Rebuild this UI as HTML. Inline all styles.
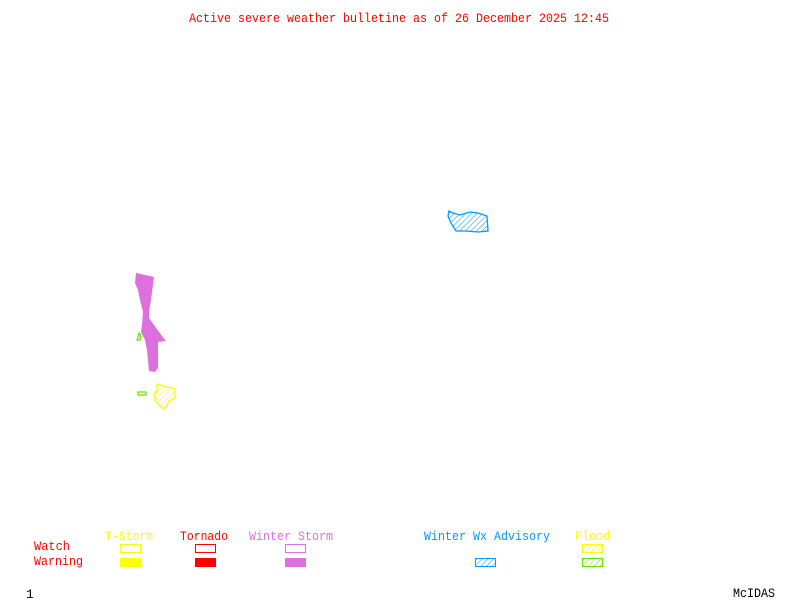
<!DOCTYPE html>
<html><head><meta charset="utf-8"><style>
html,body{margin:0;padding:0;background:#fff;}
svg{display:block;}
text{font-family:"Liberation Mono","DejaVu Sans Mono",monospace;font-size:13px;}
</style></head><body>
<svg width="800" height="600" viewBox="0 0 800 600" xmlns="http://www.w3.org/2000/svg">
<defs>
<pattern id="hb" width="4" height="4" patternUnits="userSpaceOnUse" patternTransform="rotate(45)"><line x1="0" y1="0" x2="0" y2="4" stroke="#0099ff" stroke-width="1"/></pattern>
<pattern id="hy" width="4" height="4" patternUnits="userSpaceOnUse" patternTransform="rotate(45)"><line x1="0" y1="0" x2="0" y2="4" stroke="#ffff00" stroke-width="1"/></pattern>
<pattern id="hg" width="4" height="4" patternUnits="userSpaceOnUse" patternTransform="rotate(45)"><line x1="0" y1="0" x2="0" y2="4" stroke="#66dd00" stroke-width="1"/></pattern>
</defs>
<text x="189" y="22" fill="#ff0000" textLength="420" lengthAdjust="spacingAndGlyphs">Active severe weather bulletine as of 26 December 2025 12:45</text>

<polygon points="136,273 141,274 154,277 151,300 149,312 149,318 154,325 162,336 166,341 158,342 158,368 155,372 149,371 147,350 145,340 141,332 142,324 143,312 140,300 138,290 135,283" fill="#dd70dd"/>
<path d="M139,333 L141,335 L140,340 L137,340 Z" fill="none" stroke="#66dd00" stroke-width="1.2"/>
<rect x="138" y="392" width="8" height="3" fill="none" stroke="#66dd00" stroke-width="1.2"/>
<polygon points="157,384 175,389 175,398 169,401 167,406 164,409 159,405 155,400 154,395 157,390" fill="url(#hy)" stroke="#ffff00" stroke-width="1.3"/>
<polygon points="449,211 453,213 460,215 470,212 478,213 487,216 488,231 478,232 466,231 456,231 451,223 448,216" fill="url(#hb)" stroke="#0099ff" stroke-width="1.3"/>

<text x="105" y="540" fill="#ffff00" textLength="48" lengthAdjust="spacingAndGlyphs">T-Storm</text>
<text x="180" y="540" fill="#ff0000" textLength="48" lengthAdjust="spacingAndGlyphs">Tornado</text>
<text x="249" y="540" fill="#dd70dd" textLength="84" lengthAdjust="spacingAndGlyphs">Winter Storm</text>
<text x="424" y="540" fill="#0099ff" textLength="126" lengthAdjust="spacingAndGlyphs">Winter Wx Advisory</text>
<text x="575" y="540" fill="#ffff00" textLength="35" lengthAdjust="spacingAndGlyphs">Flood</text>
<text x="34" y="550" fill="#ff0000" textLength="36" lengthAdjust="spacingAndGlyphs">Watch</text>
<text x="34" y="565" fill="#ff0000" textLength="49" lengthAdjust="spacingAndGlyphs">Warning</text>

<rect x="120.5" y="544.5" width="20" height="8" fill="none" stroke="#ffff00"/>
<rect x="120" y="558" width="21" height="9" fill="#ffff00"/>
<rect x="195.5" y="544.5" width="20" height="8" fill="none" stroke="#ff0000"/>
<rect x="195" y="558" width="21" height="9" fill="#ff0000"/>
<rect x="285.5" y="544.5" width="20" height="8" fill="none" stroke="#dd70dd"/>
<rect x="285" y="558" width="21" height="9" fill="#dd70dd"/>
<rect x="475.5" y="558.5" width="20" height="8" fill="url(#hb)" stroke="#0099ff"/>
<rect x="582.5" y="544.5" width="20" height="8" fill="url(#hy)" stroke="#ffff00"/>
<rect x="582.5" y="558.5" width="20" height="8" fill="url(#hg)" stroke="#66dd00"/>

<text x="26" y="598" fill="#000">1</text>
<text x="733" y="597" fill="#000" textLength="42" lengthAdjust="spacingAndGlyphs">McIDAS</text>
</svg>
</body></html>
